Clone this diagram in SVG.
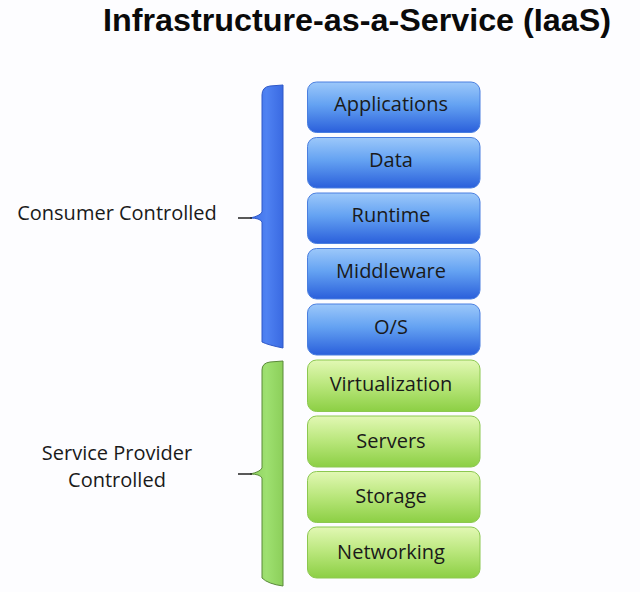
<svg xmlns="http://www.w3.org/2000/svg" width="640" height="592" viewBox="0 0 640 592">
<defs>
<linearGradient id="gb" x1="0" y1="0" x2="0" y2="1">
<stop offset="0" stop-color="#9cc8fa"/>
<stop offset="0.45" stop-color="#64a2f2"/>
<stop offset="1" stop-color="#2a5fdb"/>
</linearGradient>
<linearGradient id="gg" x1="0" y1="0" x2="0" y2="1">
<stop offset="0" stop-color="#e2f8b4"/>
<stop offset="0.5" stop-color="#b8e67a"/>
<stop offset="1" stop-color="#8ccf44"/>
</linearGradient>
<linearGradient id="bb" x1="0" y1="0" x2="1" y2="0">
<stop offset="0" stop-color="#3d6fe8"/>
<stop offset="0.5" stop-color="#4f82f2"/>
<stop offset="1" stop-color="#3a6ae2"/>
</linearGradient>
<linearGradient id="bg" x1="0" y1="0" x2="1" y2="0">
<stop offset="0" stop-color="#8fd160"/>
<stop offset="0.5" stop-color="#9ee070"/>
<stop offset="1" stop-color="#8ccf5a"/>
</linearGradient>
</defs>
<style>
.t{font-family:"Open Sans","Noto Sans","Liberation Sans",sans-serif;font-size:20px;fill:#1a1a1a;text-anchor:middle}
.l{font-family:"Open Sans","Noto Sans","Liberation Sans",sans-serif;font-size:20px;fill:#1a1a1a;text-anchor:middle}
.bx{fill:url(#gb);stroke:#4a7fe0;stroke-width:1}
.gx{fill:url(#gg);stroke:#8cc850;stroke-width:1}
.tip{fill:none;stroke:#222;stroke-width:1.5}
</style>
<rect width="640" height="592" fill="#fdfdff"/>
<text x="357" y="31" textLength="508" lengthAdjust="spacingAndGlyphs" style="font-family:'Liberation Sans',Arial,sans-serif;font-weight:bold;font-size:32px;fill:#0a0a0a;text-anchor:middle">Infrastructure-as-a-Service (IaaS)</text>

<g id="consumer-label"><text class="l" x="117" y="220">Consumer Controlled</text></g>
<g id="provider-label"><text class="l" x="117" y="460">Service Provider</text><text class="l" x="117" y="487">Controlled</text></g>

<g id="braces">
<g id="brace-consumer">
<path d="M262,95 Q262,87 270,86 L283,85 L283,348 Q268,345 262,342 L262,222 Q260,218 250,218 Q260,216 262,212 Z" fill="url(#bb)" stroke="#2e58c8" stroke-width="1"/>
<path class="tip" d="M238,218 L252,218"/>
</g>
<g id="brace-provider">
<path d="M262,370 Q262,363 270,362 L283,361 L283,586 Q268,584 262,578 L262,478 Q260,474 250,474 Q260,472 262,468 Z" fill="url(#bg)" stroke="#5a8a3a" stroke-width="1"/>
<path class="tip" d="M238,474 L252,474"/>
</g>
</g>

<g id="applications"><rect class="bx" x="307.5" y="82" width="172.5" height="50.5" rx="9"/><text class="t" x="391" y="111">Applications</text></g>
<g id="data"><rect class="bx" x="307.5" y="137.5" width="172.5" height="50.5" rx="9"/><text class="t" x="391" y="167">Data</text></g>
<g id="runtime"><rect class="bx" x="307.5" y="193" width="172.5" height="50.5" rx="9"/><text class="t" x="391" y="222">Runtime</text></g>
<g id="middleware"><rect class="bx" x="307.5" y="248.5" width="172.5" height="50.5" rx="9"/><text class="t" x="391" y="278">Middleware</text></g>
<g id="os"><rect class="bx" x="307.5" y="304" width="172.5" height="51" rx="9"/><text class="t" x="391" y="334">O/S</text></g>
<g id="virtualization"><rect class="gx" x="307.5" y="360" width="172.5" height="51.5" rx="9"/><text class="t" x="391" y="391">Virtualization</text></g>
<g id="servers"><rect class="gx" x="307.5" y="416" width="172.5" height="51" rx="9"/><text class="t" x="391" y="448">Servers</text></g>
<g id="storage"><rect class="gx" x="307.5" y="471.5" width="172.5" height="51" rx="9"/><text class="t" x="391" y="503">Storage</text></g>
<g id="networking"><rect class="gx" x="307.5" y="527" width="172.5" height="51" rx="9"/><text class="t" x="391" y="559">Networking</text></g>
</svg>
